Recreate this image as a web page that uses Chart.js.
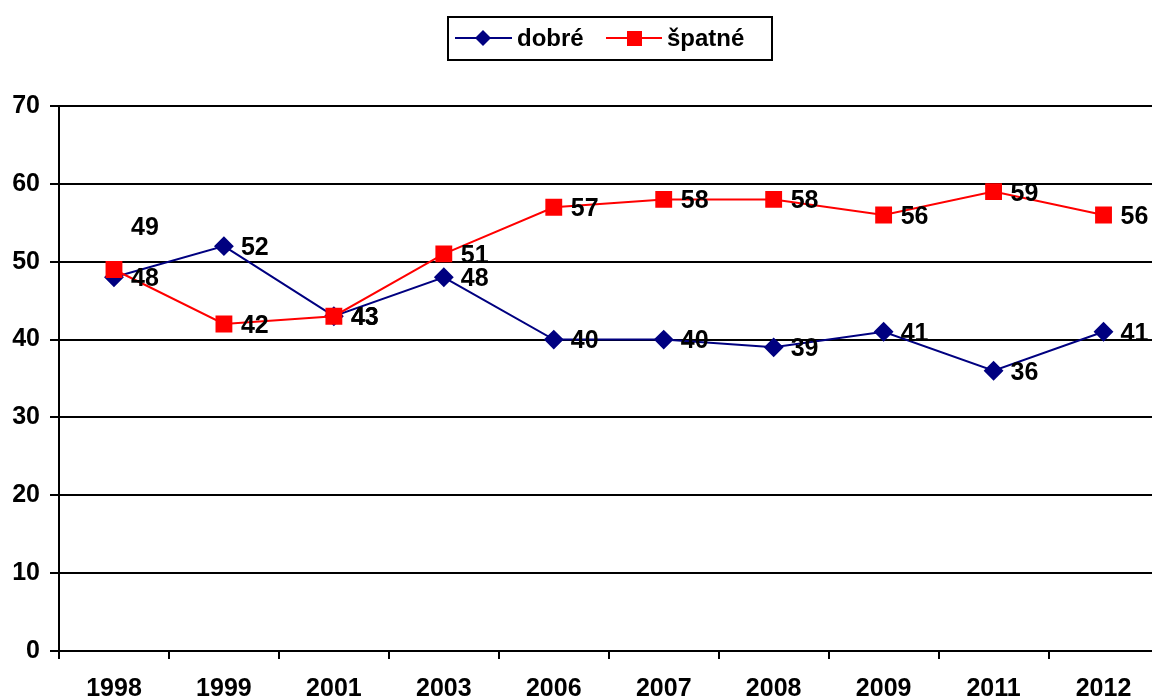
<!DOCTYPE html>
<html>
<head>
<meta charset="utf-8">
<script src="https://cdn.jsdelivr.net/npm/chart.js@4"></script>
<style>
  html, body { margin:0; padding:0; background:#fff; overflow:hidden; }
  canvas { display:block; }
</style>
</head>
<body>
<canvas id="graf" width="1171" height="698"></canvas>
<script>
const roky = ["1998","1999","2001","2003","2006","2007","2008","2009","2011","2012"];
const dobre = [48, 52, 43, 48, 40, 40, 39, 41, 36, 41];
const spatne = [49, 42, 43, 51, 57, 58, 58, 56, 59, 56];

const RODINA = "'Liberation Sans', Arial, sans-serif";
const PISMO = "bold 25px " + RODINA;

// popisky hodnot vpravo od bodu (49 v roce 1998 je v originale posunuta nahoru)
const popiskyPlugin = {
  id: "popisky",
  afterDatasetsDraw(chart){
    const ctx = chart.ctx;
    ctx.save();
    ctx.font = PISMO;
    ctx.fillStyle = "#000";
    ctx.textAlign = "left";
    ctx.textBaseline = "middle";
    chart.data.datasets.forEach((ds, di) => {
      chart.getDatasetMeta(di).data.forEach((pt, i) => {
        let dx = 17, dy = 2;
        if(di === 1 && i === 0){ dy = -41; }
        ctx.fillText(String(ds.data[i]), pt.x + dx, pt.y + dy);
      });
    });
    ctx.restore();
  }
};

// legenda v ramecku nahore
const legendaPlugin = {
  id: "legenda",
  afterDraw(chart){
    const ctx = chart.ctx;
    ctx.save();
    ctx.strokeStyle = "#000";
    ctx.lineWidth = 2;
    ctx.strokeRect(448, 17, 324, 43);
    const y = 38;
    // dobré
    ctx.strokeStyle = "#000080"; ctx.lineWidth = 2;
    ctx.beginPath(); ctx.moveTo(455, y); ctx.lineTo(512, y); ctx.stroke();
    ctx.fillStyle = "#000080";
    ctx.beginPath(); ctx.moveTo(483, y-8); ctx.lineTo(491, y); ctx.lineTo(483, y+8); ctx.lineTo(475, y); ctx.closePath(); ctx.fill();
    // špatné
    ctx.strokeStyle = "#ff0000";
    ctx.beginPath(); ctx.moveTo(606, y); ctx.lineTo(662, y); ctx.stroke();
    ctx.fillStyle = "#ff0000";
    ctx.fillRect(627, y-7, 15, 15);
    ctx.font = "bold 24px " + RODINA;
    ctx.fillStyle = "#000";
    ctx.textBaseline = "middle";
    ctx.fillText("dobré", 517, y + 1);
    ctx.fillText("špatné", 667, y + 1);
    ctx.restore();
  }
};

new Chart(document.getElementById("graf"), {
  type: "line",
  data: {
    labels: roky,
    datasets: [
      { label:"dobré", data:dobre, borderColor:"#000080", backgroundColor:"#000080",
        borderWidth:2, pointStyle:"rectRot", pointRadius:8.5, pointHoverRadius:8.5, order:2 },
      { label:"špatné", data:spatne, borderColor:"#ff0000", backgroundColor:"#ff0000",
        borderWidth:2, pointStyle:"rect", pointRadius:10.5, pointHoverRadius:10.5, order:1 }
    ]
  },
  options: {
    responsive:false,
    animation:false,
    layout:{ padding:{ top:106, right:0, left:0, bottom:0 } },
    plugins:{ legend:{display:false}, tooltip:{enabled:false} },
    scales:{
      x:{
        offset:true,
        grid:{ offset:true, drawOnChartArea:false, drawTicks:true, tickLength:8, color:"#000", lineWidth:2 },
        border:{ color:"#000", width:2 },
        ticks:{ color:"#000", font:{ family:RODINA, size:25, weight:"bold" }, padding:15, maxRotation:0 },
        afterFit(s){ s.height = 47; }
      },
      y:{
        min:0, max:70,
        grid:{ color:"#000", lineWidth:2, tickLength:9 },
        border:{ color:"#000", width:2 },
        ticks:{ stepSize:10, color:"#000", font:{ family:RODINA, size:25, weight:"bold" }, padding:10 },
        afterFit(s){ s.width = 59; }
      }
    }
  },
  plugins:[popiskyPlugin, legendaPlugin]
});
</script>
</body>
</html>
